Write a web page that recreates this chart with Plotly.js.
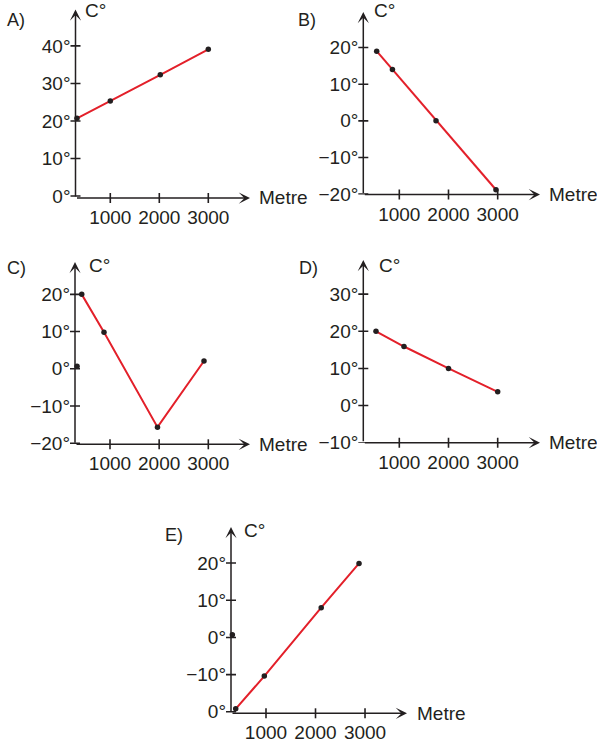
<!DOCTYPE html>
<html>
<head>
<meta charset="utf-8">
<script src="https://cdn.plot.ly/plotly-3.0.1.min.js"></script>
<style>html,body{margin:0;padding:0;background:#fff}#chart{width:597px;height:748px}</style>
</head>
<body>
<div id="chart"></div>
<script>
// ---------- data ----------
const panelNames = ['A)', 'B)', 'C)', 'D)', 'E)'];
const xTickVals = [1000, 2000, 3000];
const xTickText = ['1000', '2000', '3000'];

const aTickVals = [0, 10, 20, 30, 40];
const aTickText = ['0°', '10°', '20°', '30°', '40°'];
const aX = [320, 1000, 2020, 3000];
const aY = [20.7, 25.3, 32.3, 39.1];

const bTickVals = [-20, -10, 0, 10, 20];
const bTickText = ['−20°', '−10°', '0°', '10°', '20°'];
const bX = [540, 860, 1746, 2965];
const bY = [19.0, 14.0, 0, -18.8];

const cTickVals = [-20, -10, 0, 10, 20];
const cTickText = ['−20°', '−10°', '0°', '10°', '20°'];
const cX = [425, 878, 1966, 2912];
const cY = [20, 9.8, -15.7, 2.1];
const cDotX = [330];
const cDotY = [0.7];

const dTickVals = [-10, 0, 10, 20, 30];
const dTickText = ['−10°', '0°', '10°', '20°', '30°'];
const dX = [526, 1095, 2000, 3000];
const dY = [20, 15.9, 10, 3.7];

const eTickVals = [-20, -10, 0, 10, 20];
const eTickText = ['0°', '−10°', '0°', '10°', '20°'];
const eX = [388, 966, 2115, 2879];
const eY = [-19.2, -10.4, 8.0, 19.9];
const eDotX = [320];
const eDotY = [0.7];

const yLabel = 'C°';
const xLabel = 'Metre';

// ---------- layout geometry (pixels) ----------
const W = 597, H = 748;
const panels = [
  {axX: 75.5, tipX: 250, axY: 198, tipY: 9.5, xr: [290, 3851], yr: [-0.53, 49.7],
   lab: [16, 20], cT: [83, 10], mT: [257, 197], tv: aTickVals, tt: aTickText, x: aX, y: aY},
  {axX: 363.3, tipX: 540, axY: 194.5, tipY: 12, xr: [268, 3860], yr: [-20.1, 29.7],
   lab: [307, 20], cT: [372, 10], mT: [547, 194.5], tv: bTickVals, tt: bTickText, x: bX, y: bY},
  {axX: 75, tipX: 250, axY: 444.3, tipY: 262, xr: [288, 3848], yr: [-20.3, 28.7],
   lab: [16, 268], cT: [87, 265], mT: [257, 444.3], tv: cTickVals, tt: cTickText, x: cX, y: cY, dx: cDotX, dy: cDotY},
  {axX: 363.3, tipX: 540, axY: 442.7, tipY: 260, xr: [268, 3860], yr: [-10.0, 39.2],
   lab: [308, 268], cT: [377, 265], mT: [547, 442.7], tv: dTickVals, tt: dTickText, x: dX, y: dY},
  {axX: 231, tipX: 407, axY: 713.3, tipY: 527, xr: [293, 3848], yr: [-20.4, 29.7],
   lab: [174, 535], cT: [242, 530], mT: [415, 713.3], tv: eTickVals, tt: eTickText, x: eX, y: eY, dx: eDotX, dy: eDotY}
];

const INK = '#231f20';
const RED = '#e3202a';
const FONT = 'Liberation Sans, Arial, Helvetica, sans-serif';

const traces = [];
const layout = {
  width: W, height: H,
  margin: {l: 0, r: 0, t: 0, b: 0, pad: 0},
  paper_bgcolor: '#fff', plot_bgcolor: 'rgba(0,0,0,0)',
  showlegend: false,
  font: {family: FONT, color: INK},
  annotations: [], shapes: []
};

panels.forEach((p, i) => {
  const sfx = i === 0 ? '' : String(i + 1);
  const xa = 'x' + sfx, ya = 'y' + sfx;
  const xk = 'xaxis' + sfx, yk = 'yaxis' + sfx;
  layout[xk] = {
    domain: [p.axX / W, p.tipX / W], range: p.xr, anchor: ya,
    showgrid: false, zeroline: false, showline: false, ticks: '',
    tickvals: xTickVals, ticktext: xTickText,
    tickfont: {size: 19, family: FONT, color: INK},
    ticklabelstandoff: 6, fixedrange: true
  };
  layout[yk] = {
    domain: [1 - p.axY / H, 1 - p.tipY / H], range: p.yr, anchor: xa,
    showgrid: false, zeroline: false, showline: false, ticks: '',
    tickvals: p.tv, ticktext: p.tt,
    tickfont: {size: 19, family: FONT, color: INK},
    ticklabelstandoff: 4, fixedrange: true
  };
  // red line
  traces.push({x: p.x, y: p.y, xaxis: xa, yaxis: ya, mode: 'lines',
    line: {color: RED, width: 2}, cliponaxis: false, hoverinfo: 'skip'});
  // dots
  const dotsX = p.x.concat(p.dx || []);
  const dotsY = p.y.concat(p.dy || []);
  traces.push({x: dotsX, y: dotsY, xaxis: xa, yaxis: ya, mode: 'markers',
    marker: {color: INK, size: 5.5}, cliponaxis: false, hoverinfo: 'skip'});
  // axis arrows
  const arrowBase = {xref: xa, yref: ya, axref: xa, ayref: ya, text: '', showarrow: true,
    arrowhead: 3, arrowsize: 1.25, arrowwidth: 1.5, arrowcolor: INK, standoff: 0, startstandoff: 0};
  layout.annotations.push(Object.assign({}, arrowBase, {x: p.xr[1], y: p.yr[0], ax: p.xr[0], ay: p.yr[0]}));
  layout.annotations.push(Object.assign({}, arrowBase, {x: p.xr[0], y: p.yr[1], ax: p.xr[0], ay: p.yr[0]}));
  // tick marks crossing the axes
  xTickVals.forEach(v => layout.shapes.push({type: 'line', xref: xa, yref: ya + ' domain',
    ysizemode: 'pixel', yanchor: 0, x0: v, x1: v, y0: -5, y1: 5,
    line: {color: INK, width: 1.6}}));
  p.tv.forEach(v => layout.shapes.push({type: 'line', xref: xa + ' domain', yref: ya,
    xsizemode: 'pixel', xanchor: 0, y0: v, y1: v, x0: -5, x1: 5,
    line: {color: INK, width: 1.6}}));
  // texts
  layout.annotations.push({xref: 'paper', yref: 'paper', x: p.lab[0] / W, y: 1 - p.lab[1] / H,
    text: panelNames[i], showarrow: false, xanchor: 'center', yanchor: 'middle',
    font: {size: 18, family: FONT, color: INK}});
  layout.annotations.push({xref: 'paper', yref: 'paper', x: p.cT[0] / W, y: 1 - p.cT[1] / H,
    text: yLabel, showarrow: false, xanchor: 'left', yanchor: 'middle',
    font: {size: 19, family: FONT, color: INK}});
  layout.annotations.push({xref: 'paper', yref: 'paper', x: p.mT[0] / W, y: 1 - p.mT[1] / H,
    text: xLabel, showarrow: false, xanchor: 'left', yanchor: 'middle',
    font: {size: 19, family: FONT, color: INK}});
});

Plotly.newPlot('chart', traces, layout, {displayModeBar: false, staticPlot: true});
</script>
</body>
</html>
